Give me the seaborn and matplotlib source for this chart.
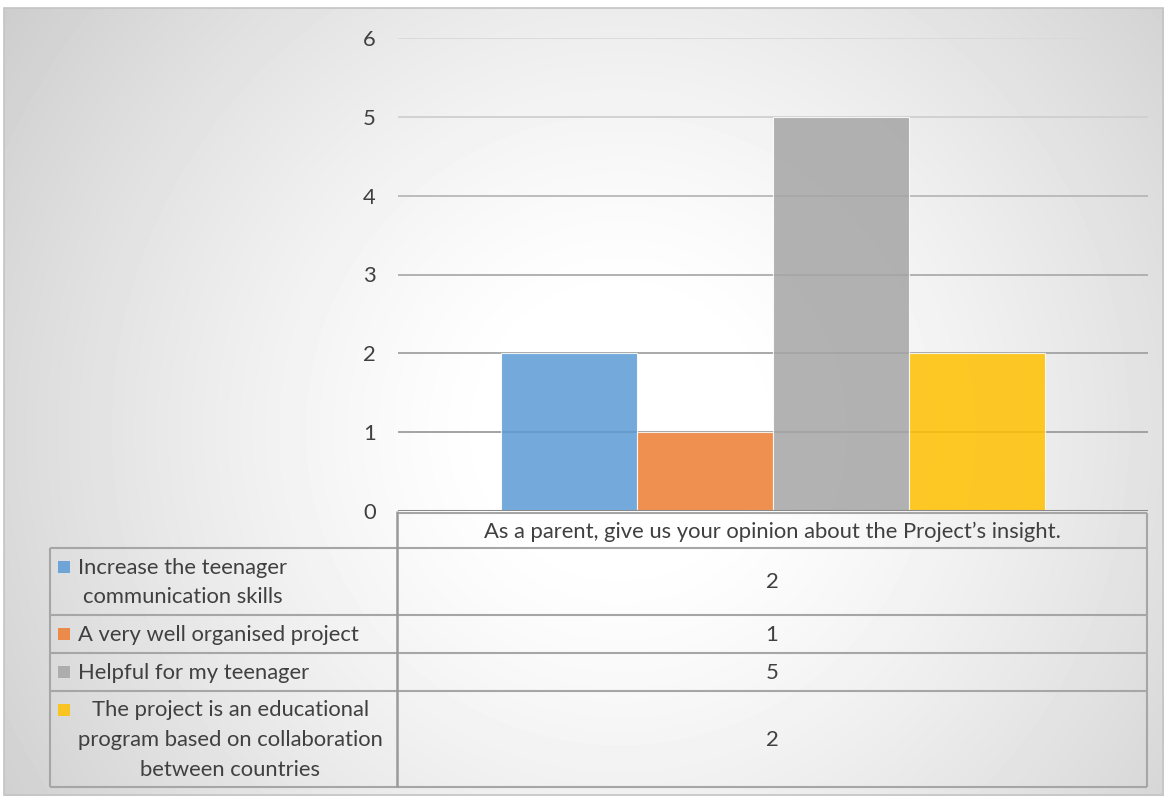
import numpy as np
import pandas as pd
import seaborn as sns
import matplotlib.pyplot as plt
from matplotlib.patches import Rectangle

# --- data ---
question = "As a parent, give us your opinion about the Project\u2019s insight."
answers = [
    "Increase the teenager\ncommunication skills",
    "A very well organised project",
    "Helpful for my teenager",
    "The project is an educational\nprogram based on collaboration\nbetween countries",
]
counts = [2, 1, 5, 2]
palette = ["#5B9BD5", "#ED7D31", "#A5A5A5", "#FFC000"]
yticks = [0, 1, 2, 3, 4, 5, 6]

sns.set_style("white")
plt.rcParams["font.family"] = ["Lato", "DejaVu Sans"]
TXT = "#404040"
FS = 15.8

W, H = 1164, 796
fig = plt.figure(figsize=(W / 100, H / 100), dpi=100)

# background axes in pixel coords (radial gradient + data table)
bg = fig.add_axes([0, 0, 1, 1], zorder=0)
bg.axis("off")

xx, yy = np.meshgrid(np.arange(4, W), np.arange(8, H))
d = np.hypot(xx - 620, yy - 430)
shade = 1 - 0.21 * np.clip((d - 120) / 660, 0, 1) ** 1.3
bg.imshow(shade, cmap="gray", vmin=0, vmax=1, extent=(4, W, H, 8),
          aspect="auto", interpolation="bilinear")
bg.add_patch(Rectangle((4, 8), W - 5, H - 9, fill=False, edgecolor="#c4c4c4", lw=1.2))
bg.set_xlim(0, W)
bg.set_ylim(H, 0)

# --- bar chart ---
px0, px1, py6, py0 = 398, 1148, 38, 511
ax = fig.add_axes([px0 / W, (H - py0) / H, (px1 - px0) / W, (py0 - py6) / H], zorder=1)
ax.set_facecolor("none")

df = pd.DataFrame({"question": [question] * len(answers), "answer": answers, "count": counts})
sns.barplot(data=df, x="question", y="count", hue="answer", hue_order=answers,
            palette=palette, saturation=1, width=0.725, alpha=0.85, errorbar=None,
            edgecolor="white", linewidth=0.8, legend=False, ax=ax, zorder=2)

grid_cols = ["#9c9c9c", "#a2a2a2", "#acacac", "#b8b8b8", "#cfcfcf", "#d9d9d9"]
for v, c in zip(yticks[1:], grid_cols):
    ax.axhline(v, color=c, lw=1.3, zorder=1)
ax.axhline(0, color="#8a8a8a", lw=2.2, zorder=3)

ax.set_xlim(-0.5, 0.5)
ax.set_ylim(0, 6)
ax.set_yticks(yticks)
ax.set_xticks([])
ax.set_xlabel("")
ax.set_ylabel("")
ax.tick_params(axis="y", length=0, pad=16, labelsize=FS, labelcolor=TXT)
for s in ax.spines.values():
    s.set_visible(False)

# --- data table under the plot ---
lc = "#a6a6a6"
xl, xm, xr = 50, 397, 1147
head_top, head_bot = 513, 548
row_edges = [548, 615, 653, 691, 787]

bg.hlines(head_top, xm, xr, color=lc, lw=1.5)
bg.hlines(row_edges, xl, xr, color=lc, lw=1.5)
bg.vlines(xm, py0, row_edges[-1], color="#9a9a9a", lw=1.8)
bg.vlines(xr, head_top, row_edges[-1], color=lc, lw=1.5)
bg.vlines(xl, row_edges[0], row_edges[-1], color=lc, lw=1.5)

bg.text((xm + xr) / 2, (head_top + head_bot) / 2 + 1, question, ha="center", va="center",
        fontsize=FS, color=TXT)

line_px = 29.5
for i, (lab, val, col) in enumerate(zip(answers, counts, palette)):
    yc = (row_edges[i] + row_edges[i + 1]) / 2
    n = lab.count("\n") + 1
    bg.text(78, yc + 1, lab, ha="left", va="center", multialignment="center",
            fontsize=FS, color=TXT, linespacing=1.6)
    ysq = yc - (n - 1) / 2 * line_px
    bg.add_patch(Rectangle((58, ysq - 6), 12, 12, facecolor=col, alpha=0.85,
                           edgecolor="none"))
    bg.text((xm + xr) / 2, yc + 1, str(val), ha="center", va="center",
            fontsize=FS, color=TXT)

fig.savefig("out.png", dpi=100)
